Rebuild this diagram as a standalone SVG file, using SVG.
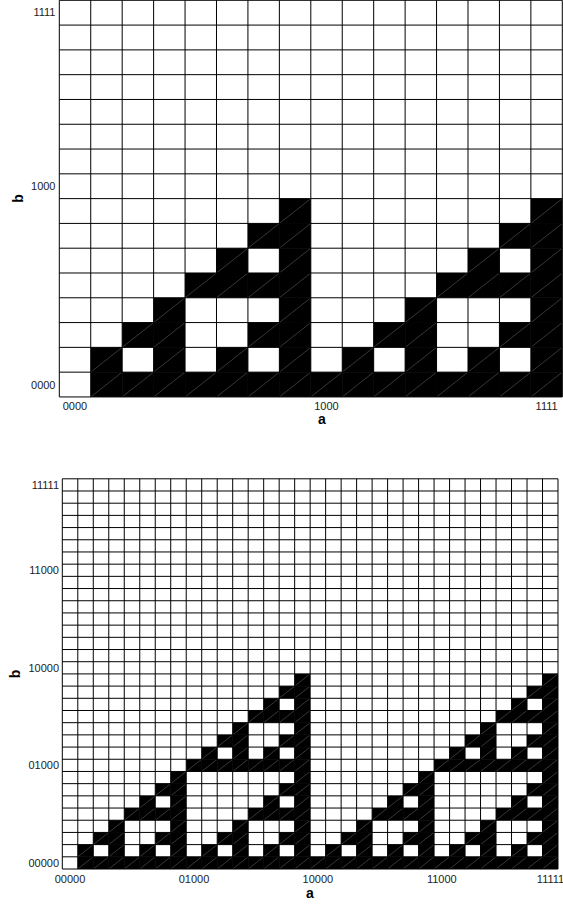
<svg xmlns="http://www.w3.org/2000/svg" xmlns:xlink="http://www.w3.org/1999/xlink" width="563" height="905" viewBox="0 0 563 905">
<style>
.lbl{font-family:"Liberation Sans",Arial,sans-serif;font-size:11px;fill:#1a1a1a;opacity:0.99}
.ax{font-family:"Liberation Sans",Arial,sans-serif;font-size:14px;font-weight:bold;fill:#000;opacity:0.99}
.grid{fill:none;stroke:#000;stroke-width:1}
.diag{stroke:#5c5c5c;stroke-width:0.6}
</style>
<defs>
<g id="c"><rect width="1" height="1" fill="#000"/><line class="diag" x1="0" y1="1" x2="1" y2="0" vector-effect="non-scaling-stroke"/></g>
<g id="m0"><use href="#c"/></g>
<g id="m1"><use href="#m0"/><use href="#m0" y="-1"/></g>
<g id="m2"><use href="#m0"/><use href="#m0" y="-2"/></g>
<g id="m3"><use href="#m1"/><use href="#m1" y="-2"/></g>
<g id="m4"><use href="#m0"/><use href="#m0" y="-4"/></g>
<g id="m5"><use href="#m1"/><use href="#m1" y="-4"/></g>
<g id="m6"><use href="#m2"/><use href="#m2" y="-4"/></g>
<g id="m7"><use href="#m3"/><use href="#m3" y="-4"/></g>
<g id="m8"><use href="#m0"/><use href="#m0" y="-8"/></g>
<g id="m9"><use href="#m1"/><use href="#m1" y="-8"/></g>
<g id="m10"><use href="#m2"/><use href="#m2" y="-8"/></g>
<g id="m11"><use href="#m3"/><use href="#m3" y="-8"/></g>
<g id="m12"><use href="#m4"/><use href="#m4" y="-8"/></g>
<g id="m13"><use href="#m5"/><use href="#m5" y="-8"/></g>
<g id="m14"><use href="#m6"/><use href="#m6" y="-8"/></g>
<g id="m15"><use href="#m7"/><use href="#m7" y="-8"/></g>
</defs>
<rect width="563" height="905" fill="#fff"/>

<g id="grid-top" transform="translate(59.3 0.3) scale(31.4375 24.79)">
<g id="cells-top">
<use href="#m1" x="1" y="15"/><use href="#m2" x="2" y="15"/><use href="#m3" x="3" y="15"/><use href="#m4" x="4" y="15"/>
<use href="#m5" x="5" y="15"/><use href="#m6" x="6" y="15"/><use href="#m7" x="7" y="15"/><use href="#m0" x="8" y="15"/>
<use href="#m1" x="9" y="15"/><use href="#m2" x="10" y="15"/><use href="#m3" x="11" y="15"/><use href="#m4" x="12" y="15"/>
<use href="#m5" x="13" y="15"/><use href="#m6" x="14" y="15"/><use href="#m7" x="15" y="15"/>
</g>
<path class="grid" vector-effect="non-scaling-stroke" d="M0 0V16M1 0V16M2 0V16M3 0V16M4 0V16M5 0V16M6 0V16M7 0V16M8 0V16M9 0V16M10 0V16M11 0V16M12 0V16M13 0V16M14 0V16M15 0V16M16 0V16M0 0H16M0 1H16M0 2H16M0 3H16M0 4H16M0 5H16M0 6H16M0 7H16M0 8H16M0 9H16M0 10H16M0 11H16M0 12H16M0 13H16M0 14H16M0 15H16M0 16H16"/>
</g>

<g id="labels-top">
<text class="lbl" x="55.5" y="16.4" text-anchor="end">1111</text>
<text class="lbl" x="55.5" y="190.1" text-anchor="end">1000</text>
<text class="lbl" x="55.5" y="388.6" text-anchor="end">0000</text>
<text class="lbl" x="75" y="410" text-anchor="middle">0000</text>
<text class="lbl" x="326.5" y="410" text-anchor="middle">1000</text>
<text class="lbl" x="546.6" y="410" text-anchor="middle">1111</text>
<text class="ax" x="322" y="424" text-anchor="middle">a</text>
<text class="ax" transform="translate(23 198.5) rotate(-90)" text-anchor="middle">b</text>
</g>

<g id="grid-bottom" transform="translate(62.3 478.8) scale(15.4906 12.194)">
<g id="cells-bottom">
<use href="#m1" x="1" y="31"/><use href="#m2" x="2" y="31"/><use href="#m3" x="3" y="31"/><use href="#m4" x="4" y="31"/>
<use href="#m5" x="5" y="31"/><use href="#m6" x="6" y="31"/><use href="#m7" x="7" y="31"/><use href="#m8" x="8" y="31"/>
<use href="#m9" x="9" y="31"/><use href="#m10" x="10" y="31"/><use href="#m11" x="11" y="31"/><use href="#m12" x="12" y="31"/>
<use href="#m13" x="13" y="31"/><use href="#m14" x="14" y="31"/><use href="#m15" x="15" y="31"/><use href="#m0" x="16" y="31"/>
<use href="#m1" x="17" y="31"/><use href="#m2" x="18" y="31"/><use href="#m3" x="19" y="31"/><use href="#m4" x="20" y="31"/>
<use href="#m5" x="21" y="31"/><use href="#m6" x="22" y="31"/><use href="#m7" x="23" y="31"/><use href="#m8" x="24" y="31"/>
<use href="#m9" x="25" y="31"/><use href="#m10" x="26" y="31"/><use href="#m11" x="27" y="31"/><use href="#m12" x="28" y="31"/>
<use href="#m13" x="29" y="31"/><use href="#m14" x="30" y="31"/><use href="#m15" x="31" y="31"/>
</g>
<path class="grid" vector-effect="non-scaling-stroke" d="M0 0V32M1 0V32M2 0V32M3 0V32M4 0V32M5 0V32M6 0V32M7 0V32M8 0V32M9 0V32M10 0V32M11 0V32M12 0V32M13 0V32M14 0V32M15 0V32M16 0V32M17 0V32M18 0V32M19 0V32M20 0V32M21 0V32M22 0V32M23 0V32M24 0V32M25 0V32M26 0V32M27 0V32M28 0V32M29 0V32M30 0V32M31 0V32M32 0V32M0 0H32M0 1H32M0 2H32M0 3H32M0 4H32M0 5H32M0 6H32M0 7H32M0 8H32M0 9H32M0 10H32M0 11H32M0 12H32M0 13H32M0 14H32M0 15H32M0 16H32M0 17H32M0 18H32M0 19H32M0 20H32M0 21H32M0 22H32M0 23H32M0 24H32M0 25H32M0 26H32M0 27H32M0 28H32M0 29H32M0 30H32M0 31H32M0 32H32"/>
</g>

<g id="labels-bottom">
<text class="lbl" x="59" y="488.9" text-anchor="end">11111</text>
<text class="lbl" x="59" y="574.2" text-anchor="end">11000</text>
<text class="lbl" x="59" y="671.8" text-anchor="end">10000</text>
<text class="lbl" x="59" y="769.3" text-anchor="end">01000</text>
<text class="lbl" x="59" y="866.9" text-anchor="end">00000</text>
<text class="lbl" x="70" y="883.3" text-anchor="middle">00000</text>
<text class="lbl" x="194" y="883.3" text-anchor="middle">01000</text>
<text class="lbl" x="317.9" y="883.3" text-anchor="middle">10000</text>
<text class="lbl" x="441.8" y="883.3" text-anchor="middle">11000</text>
<text class="lbl" x="550.5" y="883.3" text-anchor="middle">11111</text>
<text class="ax" x="310" y="898" text-anchor="middle">a</text>
<text class="ax" transform="translate(20 674) rotate(-90)" text-anchor="middle">b</text>
</g>
</svg>
